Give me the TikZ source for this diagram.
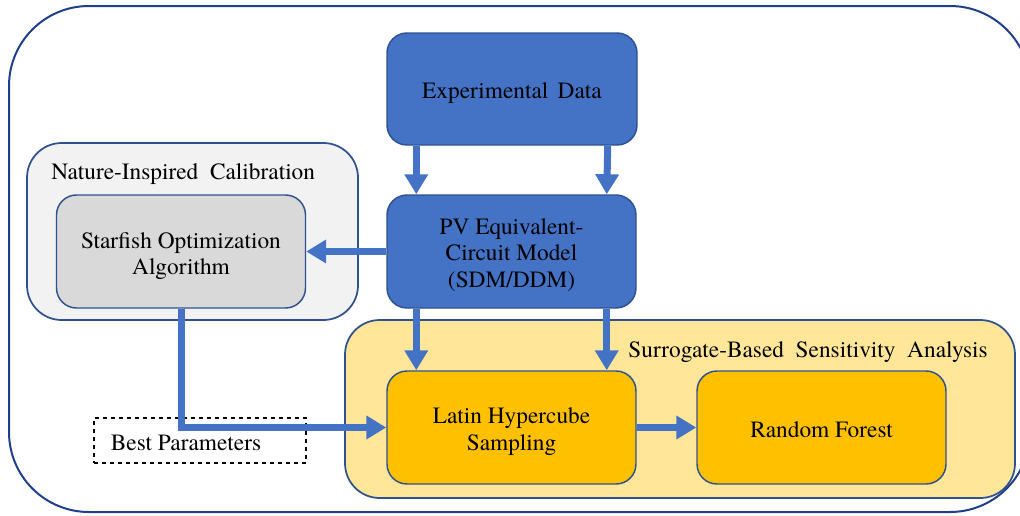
\documentclass[tikz,border=0pt]{standalone}
\usepackage{fontspec}
\setmainfont{texgyretermes}[Extension=.otf, UprightFont=*-regular, BoldFont=*-bold, ItalicFont=*-italic, BoldItalicFont=*-bolditalic]
\usetikzlibrary{arrows.meta,positioning,calc}
\definecolor{bfill}{HTML}{4472C4}
\definecolor{bdraw}{HTML}{2F528F}
\definecolor{frame}{HTML}{203F8A}
\definecolor{grayreg}{HTML}{F2F2F2}
\definecolor{graybox}{HTML}{D9D9D9}
\definecolor{yelreg}{HTML}{FFE699}
\definecolor{orbox}{HTML}{FFC000}
\tikzset{
  region/.style={draw=bdraw, line width=1.3pt, rounded corners=26pt, inner sep=0pt},
  box/.style={draw=bdraw, line width=1.1pt, rounded corners=15pt, inner sep=0pt,
    minimum width=186.75pt, minimum height=84.75pt},
  txt/.style={inner sep=0pt, align=center, font=\fontsize{17.5}{20}\selectfont},
  lbl/.style={inner sep=0pt, font=\fontsize{17.5}{20}\selectfont},
  arr/.style={draw=bfill, line width=5.25pt, -{Triangle[width=17pt,length=15pt]}},
}
\begin{document}
\begin{tikzpicture}[x=0.75pt,y=-0.75pt]
\useasboundingbox (0,0) rectangle (1020,515);
\clip (0,0) rectangle (1020,515);
% outer frame
\draw[draw=frame, line width=1.5pt, rounded corners=60pt] (9,6) rectangle (1030,512);
% regions
\node[region, fill=grayreg, minimum width=248.25pt, minimum height=132.75pt] (nic) at (192.5,231.5) {};
\node[region, fill=yelreg, minimum width=502.5pt, minimum height=133.5pt] (sbsa) at (680,409) {};
\node[lbl, anchor=west] (niclbl) at (51,174) {Nature-Inspired\ \ Calibration};
\node[lbl, anchor=east] (sbsalbl) at (988,352) {Surrogate-Based\ \ Sensitivity\ \ Analysis};
% boxes
\node[box, fill=bfill, minimum width=187.5pt, minimum height=84pt] (exp) at (512,89) {};
\node[box, fill=bfill] (pv) at (511.5,251.5) {};
\node[box, fill=graybox] (sf) at (181,251.5) {};
\node[box, fill=orbox] (lhs) at (511.5,427.5) {};
\node[box, fill=orbox] (rf) at (821.5,427.5) {};
\node[draw=black, dashed, line width=1.1pt, minimum width=159pt, minimum height=33.75pt, inner sep=0pt] (best) at (200,440.5) {};
% texts
\node[txt] (expt) at ([yshift=-3pt]exp.center) {Experimental\hspace{0.4em}Data};
\node[txt] (pvt) at ([yshift=-2.5pt]pv.center) {PV Equivalent-\\Circuit Model\\(SDM/DDM)};
\node[txt] (sft) at ([yshift=-3.5pt]sf.center) {Starfish Optimization\\Algorithm};
\node[txt] (lhst) at ([yshift=-3pt]lhs.center) {Latin Hypercube\\Sampling};
\node[txt] (rft) at ([yshift=-1.5pt]rf.center) {Random Forest};
\node[txt] (bestt) at ([xshift=-10.5pt,yshift=-1.5pt]best.center) {Best Parameters};
% arrows
\draw[arr] ([xshift=22.5pt]exp.south west) -- ([xshift=22.5pt]pv.north west);
\draw[arr] ([xshift=-22.5pt]exp.south east) -- ([xshift=-22.5pt]pv.north east);
\draw[arr] (pv.west) -- (sf.east);
\draw[arr] ([xshift=22.5pt]pv.south west) -- ([xshift=22.5pt]lhs.north west);
\draw[arr] ([xshift=-22.5pt]pv.south east) -- ([xshift=-22.5pt]lhs.north east);
\draw[arr] (sf.south) |- (lhs.west);
\draw[arr] (lhs.east) -- (rf.west);
\end{tikzpicture}
\end{document}
